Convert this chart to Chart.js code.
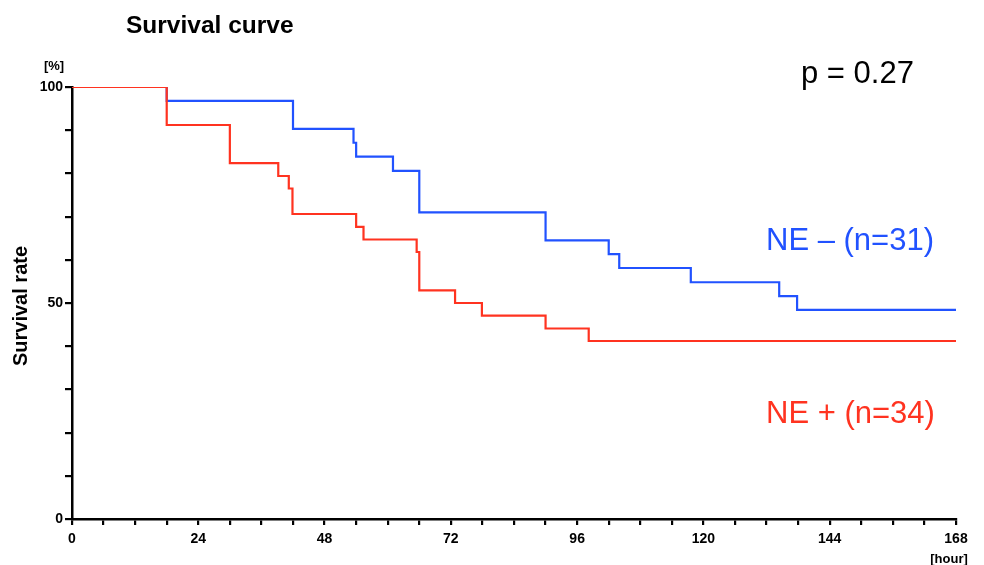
<!DOCTYPE html>
<html>
<head>
<meta charset="utf-8">
<script src="https://cdn.jsdelivr.net/npm/chart.js@4"></script>
<style>
  body { margin: 0; background: #fff; }
  canvas { display: block; }
</style>
</head>
<body>
<canvas id="km" width="984" height="565"></canvas>
<script>
// Kaplan-Meier steps: time [hour] and survival [%] after each event
const negTimes = [0, 18, 42, 53.5, 54, 61, 66, 90, 102, 104, 117.6, 134.4, 137.8, 168];
const negSurv = [100, 96.8, 90.3, 87.1, 83.9, 80.6, 71.0, 64.5, 61.3, 58.1, 54.8, 51.6, 48.4, 48.4];

const posTimes = [0, 18, 30, 39.2, 41.2, 41.9, 54, 55.4, 65.5, 66, 72.8, 77.9, 90, 98.2, 168];
const posSurv = [100, 91.2, 82.4, 79.4, 76.5, 70.6, 67.6, 64.7, 61.8, 52.9, 50.0, 47.1, 44.1, 41.2, 41.2];

const xMajorTicks = [0, 24, 48, 72, 96, 120, 144, 168];
const yTickLabels = [0, 50, 100];

const BLUE = '#2152ff';
const RED = '#ff3320';
const FONT = '"Liberation Sans", Arial, sans-serif';

const toPoints = (ts, ss) => ts.map((t, i) => ({ x: t, y: ss[i] }));

// texts around the plot (title, units, p value, group labels)
const annotations = {
  id: 'annotations',
  afterDraw(chart) {
    const ctx = chart.ctx;
    ctx.save();
    ctx.fillStyle = '#000';
    ctx.textBaseline = 'alphabetic';
    ctx.textAlign = 'left';
    ctx.font = `bold 24.5px ${FONT}`;
    ctx.fillText('Survival curve', 126, 33);

    ctx.font = `bold 13px ${FONT}`;
    ctx.textAlign = 'center';
    ctx.fillText('[%]', 54, 70);
    ctx.fillText('[hour]', 949, 563);

    ctx.font = `31px ${FONT}`;
    ctx.textAlign = 'left';
    ctx.fillText('p = 0.27', 801, 83);
    ctx.fillStyle = BLUE;
    ctx.fillText('NE – (n=31)', 766, 250);
    ctx.fillStyle = RED;
    ctx.fillText('NE + (n=34)', 766, 423);

    ctx.fillStyle = '#000';
    ctx.font = `bold 20px ${FONT}`;
    ctx.translate(27, 306);
    ctx.rotate(-Math.PI / 2);
    ctx.textAlign = 'center';
    ctx.fillText('Survival rate', 0, 0);
    ctx.restore();
  }
};

new Chart(document.getElementById('km'), {
  type: 'line',
  data: {
    datasets: [
      {
        label: 'NE - (n=31)',
        data: toPoints(negTimes, negSurv),
        borderColor: BLUE,
        borderWidth: 2.2,
        stepped: true,
        pointRadius: 0,
        fill: false,
        order: 1
      },
      {
        label: 'NE + (n=34)',
        data: toPoints(posTimes, posSurv),
        borderColor: RED,
        borderWidth: 2.2,
        stepped: true,
        pointRadius: 0,
        fill: false,
        order: 0
      }
    ]
  },
  plugins: [annotations],
  options: {
    responsive: false,
    animation: false,
    layout: { padding: { left: 0, top: 87, right: 28, bottom: 0 } },
    plugins: {
      legend: { display: false },
      tooltip: { enabled: false }
    },
    scales: {
      x: {
        type: 'linear',
        min: 0,
        max: 168,
        afterFit(scale) { scale.height = 46; },
        border: { color: '#000', width: 2.5 },
        grid: { drawOnChartArea: false, color: '#000', lineWidth: 2.2, tickLength: 6 },
        ticks: {
          stepSize: 6,
          autoSkip: false,
          maxRotation: 0,
          padding: 6,
          color: '#000',
          font: { family: FONT, size: 14, weight: 'bold' },
          callback: v => (xMajorTicks.includes(v) ? String(v) : '')
        }
      },
      y: {
        min: 0,
        max: 100,
        afterFit(scale) { scale.width = 72; },
        border: { color: '#000', width: 2.5 },
        grid: { drawOnChartArea: false, color: '#000', lineWidth: 2.2, tickLength: 7 },
        ticks: {
          stepSize: 10,
          autoSkip: false,
          padding: 2,
          color: '#000',
          font: { family: FONT, size: 14, weight: 'bold' },
          callback: v => (yTickLabels.includes(v) ? String(v) : '')
        }
      }
    }
  }
});
</script>
</body>
</html>
